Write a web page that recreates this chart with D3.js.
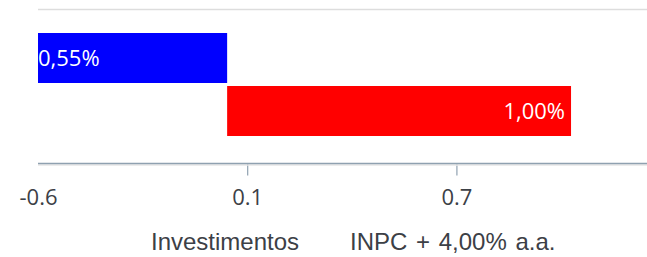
<!DOCTYPE html>
<html>
<head>
<meta charset="utf-8">
<script src="https://cdn.jsdelivr.net/npm/d3@7"></script>
<style>
  body { margin: 0; background: #fff; }
  svg { display: block; }
</style>
</head>
<body>
<svg id="chart" width="647" height="257"></svg>
<script>
// data
const categories = ['Investimentos', 'INPC + 4,00% a.a.'];
const barStart = [-0.55, 0];
const barEnd = [0, 1.00];
const barLabels = ['0,55%', '1,00%'];
const barColors = ['#0000ff', '#ff0000'];
const tickValues = [-0.55, 0.0583, 0.6667];
const tickLabels = ['-0.6', '0.1', '0.7'];

const width = 647, height = 257;
const svg = d3.select('#chart');

const xScale = d3.scaleLinear()
    .domain([-0.55, 1.2209])
    .range([38, 647]);

const yScale = d3.scaleBand()
    .domain(categories)
    .range([33, 136])
    .paddingInner(3 / 53)
    .paddingOuter(0);

// top grid line
svg.append('line')
    .attr('x1', 38).attr('x2', width)
    .attr('y1', 9.5).attr('y2', 9.5)
    .attr('stroke', '#dddddd')
    .attr('stroke-width', 1.5);

const bars = categories.map((c, i) => ({
    cat: c, start: barStart[i], end: barEnd[i], label: barLabels[i], color: barColors[i]
}));

svg.append('g')
    .selectAll('rect')
    .data(bars)
    .enter()
    .append('rect')
        .attr('x', d => xScale(Math.min(d.start, d.end)))
        .attr('y', d => yScale(d.cat))
        .attr('width', d => Math.abs(xScale(d.end) - xScale(d.start)))
        .attr('height', yScale.bandwidth())
        .attr('fill', d => d.color);

// value labels: first at bar start, second at bar end
svg.append('g')
    .selectAll('text')
    .data(bars)
    .enter()
    .append('text')
        .attr('x', (d, i) => i === 0 ? xScale(d.start) : xScale(d.end) - 6)
        .attr('y', d => yScale(d.cat) + yScale.bandwidth() / 2)
        .attr('dy', '0.36em')
        .attr('text-anchor', (d, i) => i === 0 ? 'start' : 'end')
        .attr('fill', '#ffffff')
        .style('font-family', '"Open Sans", sans-serif')
        .style('font-size', '22px')
        .text(d => d.label);

// x axis
const xAxis = d3.axisBottom(xScale)
    .tickValues(tickValues)
    .tickFormat((d, i) => tickLabels[i])
    .tickSize(12)
    .tickPadding(14);

const axisG = svg.append('g')
    .attr('class', 'axis x-axis')
    .attr('transform', 'translate(0, 163.5)')
    .call(xAxis);

axisG.select('.domain').remove();
axisG.append('line')
    .attr('x1', 38).attr('x2', width)
    .attr('y1', 1.5).attr('y2', 1.5)
    .attr('stroke', '#e6e6e6')
    .attr('stroke-width', 1.5);
axisG.append('line')
    .attr('x1', 38).attr('x2', width)
    .attr('y1', 0).attr('y2', 0)
    .attr('stroke', '#8fa1b0')
    .attr('stroke-width', 1.5);

axisG.selectAll('.tick line')
    .attr('stroke', '#8fa1b0')
    .attr('stroke-width', 1.2)
    .attr('opacity', (d, i) => i === 0 ? 0 : 1);

axisG.selectAll('.tick text')
    .attr('fill', '#3c4046')
    .style('font-family', '"Open Sans", sans-serif')
    .style('font-size', '22px');

// legend (text only)
const legendX = [151, 350];
svg.append('g')
    .selectAll('text')
    .data(categories)
    .enter()
    .append('text')
        .attr('x', (d, i) => legendX[i])
        .attr('y', 250)
        .attr('fill', '#3c4046')
        .style('font-family', '"Liberation Sans", Arial, sans-serif')
        .style('font-size', '24px')
        .style('word-spacing', '2px')
        .text(d => d);
</script>
</body>
</html>
